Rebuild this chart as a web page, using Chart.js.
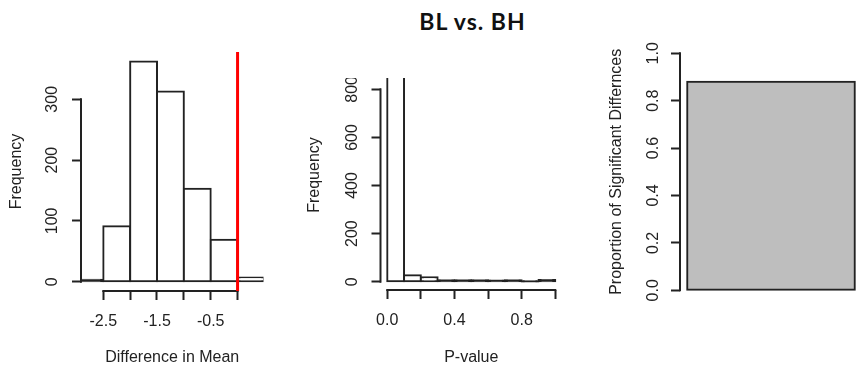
<!DOCTYPE html>
<html>
<head>
<meta charset="UTF-8">
<title>BL vs. BH</title>
<script src="https://cdn.jsdelivr.net/npm/chart.js"></script>
<style>
  body { margin: 0; background: #fff; }
  #wrap { position: relative; width: 862px; height: 371px; overflow: hidden; background: #fff; }
  #title { position: absolute; left: 372px; width: 201px; top: 6px; text-align: center;
           font: bold 23px Lato, "Open Sans", sans-serif; letter-spacing: 1px; color: #111; line-height: 30px; }
  .panel { position: absolute; overflow: hidden; }
  .panel canvas { position: absolute; left: 0; }
</style>
</head>
<body>
<div id="wrap">
  <div class="panel" style="left:0;top:0;width:290px;height:371px"><canvas id="c1" width="290" height="371" style="top:0"></canvas></div>
  <div class="panel" style="left:290px;top:78px;width:300px;height:293px"><canvas id="c2" width="300" height="371" style="top:-78px"></canvas></div>
  <div class="panel" style="left:590px;top:0;width:272px;height:371px"><canvas id="c3" width="272" height="371" style="top:0"></canvas></div>
  <div id="title">BL vs. BH</div>
</div>
<script>
// panel 1: histogram of the difference in mean
const diffBreaks = [-3, -2.5, -2, -1.5, -1, -0.5, 0, 0.5];
const diffCounts = [3, 91, 362, 313, 153, 69, 7];
const diffTicks = [-2.5, -2, -1.5, -1, -0.5, 0];
const diffTickLabels = [-2.5, -1.5, -0.5];
const diffFreqTicks = [0, 100, 200, 300];
const observedDiff = 0;

// panel 2: histogram of p-values
const pBreaks = [0, 0.1, 0.2, 0.3, 0.4, 0.5, 0.6, 0.7, 0.8, 0.9, 1.0];
const pCounts = [917, 27, 19, 6, 6, 6, 5, 6, 1, 7];
const pTicks = [0, 0.2, 0.4, 0.6, 0.8, 1.0];
const pTickLabels = [0, 0.4, 0.8];
const pFreqTicks = [0, 200, 400, 600, 800];

// panel 3: proportion of significant differences
const propCategories = ['BL vs. BH'];
const propValues = [0.88];
const propTicks = [0, 0.2, 0.4, 0.6, 0.8, 1.0];

const INK = '#222222';
const FONT = "'Liberation Sans', Arial, sans-serif";
const LW = 2;

// midpoints of histogram bins
const mids = b => b.slice(0, -1).map((v, i) => (v + b[i + 1]) / 2);

// R draws the axis line only from first to last tick
const rAxisLine = {
  id: 'rAxisLine',
  afterDatasetsDraw(chart) {
    const ctx = chart.ctx;
    ctx.save();
    ctx.strokeStyle = INK;
    ctx.lineWidth = LW;
    for (const id of ['x', 'y']) {
      const s = chart.scales[id];
      if (!s || !s.options.display || s.type !== 'linear') continue;
      const a = s.getPixelForValue(s.ticks[0].value);
      const b = s.getPixelForValue(s.ticks[s.ticks.length - 1].value);
      ctx.beginPath();
      if (s.isHorizontal()) {
        ctx.moveTo(a - LW / 2, s.top); ctx.lineTo(b + LW / 2, s.top);
      } else {
        ctx.moveTo(s.right, a + LW / 2); ctx.lineTo(s.right, b - LW / 2);
      }
      ctx.stroke();
    }
    ctx.restore();
  }
};

// abline(v = ...) across the plot region
const refLine = {
  id: 'refLine',
  afterDatasetsDraw(chart, args, opts) {
    if (opts.value === undefined) return;
    const x = chart.scales.x.getPixelForValue(opts.value);
    const { top, bottom } = chart.chartArea;
    const ctx = chart.ctx;
    ctx.save();
    ctx.strokeStyle = opts.color;
    ctx.lineWidth = opts.width;
    ctx.beginPath();
    ctx.moveTo(x, top); ctx.lineTo(x, bottom);
    ctx.stroke();
    ctx.restore();
  }
};

const tickGrid = { display: true, offset: false, drawOnChartArea: false, drawTicks: true, tickLength: 9, tickWidth: LW, tickColor: INK };
const txtFont = { family: FONT, size: 16 };

function yAxis(o) {
  return {
    type: 'linear', min: o.min, max: o.max, bounds: 'data',
    afterBuildTicks: s => { s.ticks = o.ticks.map(v => ({ value: v })); },
    afterFit: s => { s.width = o.width; s.paddingTop = 0; s.paddingBottom = 0; },
    grid: tickGrid,
    border: { display: false },
    ticks: { autoSkip: false, minRotation: 90, maxRotation: 90, crossAlign: 'center', padding: o.labelPad,
             color: INK, font: txtFont, callback: o.fmt },
    title: { display: true, text: o.title, color: INK, font: txtFont, padding: { top: o.titlePad, bottom: 0 } }
  };
}

function xAxis(o) {
  return {
    type: 'linear', min: o.min, max: o.max, bounds: 'data', offset: false,
    afterBuildTicks: s => { s.ticks = o.ticks.map(v => ({ value: v })); },
    afterFit: s => { s.height = o.height; s.paddingLeft = 0; s.paddingRight = 0; },
    grid: tickGrid,
    border: { display: false },
    ticks: { autoSkip: false, minRotation: 0, maxRotation: 0, padding: o.labelPad, color: INK, font: txtFont,
             callback: v => o.labels.includes(v) ? v.toFixed(1) : '' },
    title: { display: true, text: o.title, color: INK, font: txtFont, padding: { top: 0, bottom: o.titlePad } }
  };
}

// open bars; a bar thinner than its outline is drawn solid, as R's outline would fill it
function barFill(c) {
  const y = c.chart.scales.y;
  const h = Math.abs(y.getPixelForValue(0) - y.getPixelForValue(c.raw.y));
  return h < 2 * LW ? INK : '#ffffff';
}

function histDataset(breaks, counts) {
  const xs = mids(breaks);
  return {
    type: 'bar',
    data: xs.map((x, i) => ({ x: x, y: counts[i] })),
    backgroundColor: barFill,
    borderColor: INK,
    borderWidth: LW,
    inflateAmount: LW / 2,
    borderSkipped: false,
    barPercentage: 1,
    categoryPercentage: 1
  };
}

const common = {
  responsive: false,
  animation: false,
  devicePixelRatio: 1,
  events: []
};

new Chart(document.getElementById('c1'), {
  type: 'bar',
  data: { datasets: [histDataset(diffBreaks, diffCounts)] },
  plugins: [rAxisLine, refLine],
  options: Object.assign({}, common, {
    layout: { padding: { left: 0, top: 52, right: 26.5, bottom: 0 } },
    scales: {
      x: xAxis({ min: -2.915, max: 0.483, ticks: diffTicks, labels: diffTickLabels, height: 80,
                 labelPad: 12, title: 'Difference in Mean', titlePad: 3.4 }),
      y: yAxis({ min: -15.3, max: 377.8, ticks: diffFreqTicks, width: 81, labelPad: 5.6,
                 title: 'Frequency', titlePad: 7.4, fmt: v => String(v) })
    },
    plugins: { legend: { display: false }, tooltip: { enabled: false },
               refLine: { value: observedDiff, color: '#ff0000', width: 3 } }
  })
});

new Chart(document.getElementById('c2'), {
  type: 'bar',
  data: { datasets: [histDataset(pBreaks, pCounts)] },
  plugins: [rAxisLine],
  options: Object.assign({}, common, {
    layout: { padding: { left: 0, top: 60, right: 28, bottom: 0 } },
    scales: {
      x: xAxis({ min: -0.04, max: 1.04, ticks: pTicks, labels: pTickLabels, height: 81,
                 labelPad: 11.5, title: 'P-value', titlePad: 3.4 }),
      y: yAxis({ min: -34.5, max: 922, ticks: pFreqTicks, width: 90.5, labelPad: 5.2,
                 title: 'Frequency', titlePad: 15.4, fmt: v => String(v) })
    },
    plugins: { legend: { display: false }, tooltip: { enabled: false } }
  })
});

new Chart(document.getElementById('c3'), {
  type: 'bar',
  data: {
    labels: propCategories,
    datasets: [{
      data: propValues,
      backgroundColor: '#bebebe',
      borderColor: INK,
      borderWidth: LW,
      inflateAmount: LW / 2,
      borderSkipped: false,
      barPercentage: 0.921,
      categoryPercentage: 1
    }]
  },
  plugins: [rAxisLine],
  options: Object.assign({}, common, {
    layout: { padding: { left: 0, top: 43.8, right: 0, bottom: 71.2 } },
    scales: {
      x: { type: 'category', display: false },
      y: yAxis({ min: -0.04, max: 1.04, ticks: propTicks, width: 90, labelPad: 6.6,
                 title: 'Proportion of Significant Differnces', titlePad: 17.1, fmt: v => v.toFixed(1) })
    },
    plugins: { legend: { display: false }, tooltip: { enabled: false } }
  })
});
</script>
</body>
</html>
